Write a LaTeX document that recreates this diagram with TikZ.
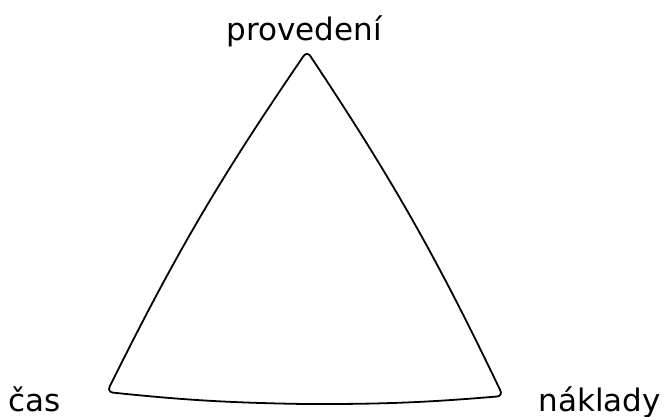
\documentclass[tikz,border=0pt]{standalone}
\usepackage{fontspec}
\setmainfont{DejaVu Sans}
\usetikzlibrary{positioning}

\begin{document}
\begin{tikzpicture}[x=1pt, y=-1pt,
    cornertext/.style={font=\fontsize{31}{36}\selectfont, inner sep=0pt},
    tri/.style={draw=black, line width=1.8pt, rounded corners=6pt, line join=round, line cap=round}
  ]
    \useasboundingbox (0,0) rectangle (664,416);

    % Corners of the triangle
    \coordinate (top) at (307,51);
    \coordinate (left) at (107,392);
    \coordinate (right) at (503,396);
    \coordinate (bmid) at (305,404);

    % Curved triangle, started at the middle of the base
    \draw[tri] (bmid) to[bend right=2.5] (right) to[bend right=4] (top)
      to[bend right=4] (left) to[bend right=2.5] (bmid);

    % Labels
    \node[cornertext, anchor=base] (perf) at (304,40) {provedení};
    \node[cornertext, anchor=base west] (time) at (8,411) {čas};
    \node[cornertext, anchor=base east] (cost) at (661,411) {náklady};

  \end{tikzpicture}
\end{document}
